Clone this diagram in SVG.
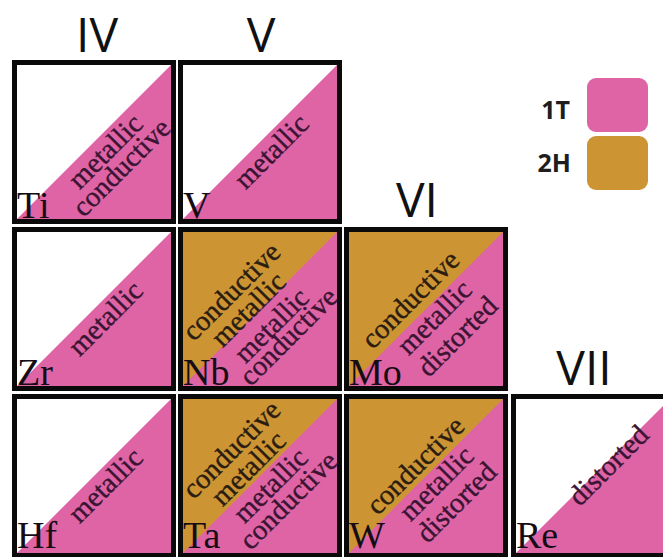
<svg xmlns="http://www.w3.org/2000/svg" width="663" height="557" viewBox="0 0 663 557">
<style>
.bg{fill:#ffffff}
.hd{font-family:"Open Sans","Liberation Sans",sans-serif;font-size:48px;fill:#111111;text-anchor:middle}
.lg{font-family:"Open Sans","Liberation Sans",sans-serif;font-size:25px;font-weight:700;fill:#1e1e1e;text-anchor:end}
.white{fill:#ffffff}
.gold{fill:#cc9433}
.pink{fill:#de64a6}
.border{fill:none;stroke:#0a0a0a;stroke-width:5}
.sym{font-family:"Liberation Serif","Times New Roman",serif;font-size:38px;fill:#160d14}
.lab{font-family:"Liberation Serif","Times New Roman",serif;font-size:28.5px;fill:#3a1432;stroke:#3a1432;stroke-width:0.4;text-anchor:middle}
.labg{font-family:"Liberation Serif","Times New Roman",serif;font-size:28.5px;fill:#2a1c10;stroke:#2a1c10;stroke-width:0.4;text-anchor:middle}
</style>
<defs>
<polygon id="tri" points="5,159 159,5 159,159"/>
</defs>
<rect class="bg" x="0" y="0" width="663" height="557"/>

<g id="headers">
<text class="hd" x="97" y="52">IV</text>
<text class="hd" x="261" y="52">V</text>
<text class="hd" x="417" y="217">VI</text>
<text class="hd" x="584" y="385">VII</text>
</g>

<g id="legend">
<text class="lg" x="570" y="119">1T</text>
<rect class="pink" x="587" y="78" width="61" height="54" rx="9"/>
<text class="lg" x="571" y="172">2H</text>
<rect class="gold" x="587" y="136" width="61" height="54" rx="9"/>
</g>

<g id="Ti" transform="translate(12,60)">
<rect class="white" x="5" y="5" width="154" height="154"/>
<use href="#tri" class="pink"/>
<rect class="border" x="2.5" y="2.5" width="159" height="159"/>
<text class="lab" transform="translate(100,98) rotate(-45)">metallic</text>
<text class="lab" transform="translate(116,114) rotate(-45)">conductive</text>
<text class="sym" x="5" y="158">Ti</text>
</g>

<g id="V" transform="translate(178,60)">
<rect class="white" x="5" y="5" width="154" height="154"/>
<use href="#tri" class="pink"/>
<rect class="border" x="2.5" y="2.5" width="159" height="159"/>
<text class="lab" transform="translate(100,98) rotate(-45)">metallic</text>
<text class="sym" x="5" y="158">V</text>
</g>

<g id="Zr" transform="translate(12,227)">
<rect class="white" x="5" y="5" width="154" height="154"/>
<use href="#tri" class="pink"/>
<rect class="border" x="2.5" y="2.5" width="159" height="159"/>
<text class="lab" transform="translate(100,98) rotate(-45)">metallic</text>
<text class="sym" x="5" y="158">Zr</text>
</g>

<g id="Nb" transform="translate(178,227)">
<rect class="gold" x="5" y="5" width="154" height="154"/>
<use href="#tri" class="pink"/>
<rect class="border" x="2.5" y="2.5" width="159" height="159"/>
<text class="labg" transform="translate(60,71) rotate(-45)">conductive</text>
<text class="labg" transform="translate(77,89) rotate(-45)">metallic</text>
<text class="lab" transform="translate(100,105) rotate(-45)">metallic</text>
<text class="lab" transform="translate(117,116) rotate(-45)">conductive</text>
<text class="sym" x="5" y="158">Nb</text>
</g>

<g id="Mo" transform="translate(344,227)">
<rect class="gold" x="5" y="5" width="154" height="154"/>
<use href="#tri" class="pink"/>
<rect class="border" x="2.5" y="2.5" width="159" height="159"/>
<text class="labg" transform="translate(73,79) rotate(-45)">conductive</text>
<text class="lab" transform="translate(97,97) rotate(-45)">metallic</text>
<text class="lab" transform="translate(120,116) rotate(-45)">distorted</text>
<text class="sym" x="5" y="158">Mo</text>
</g>

<g id="Hf" transform="translate(12,394)">
<rect class="white" x="5" y="5" width="154" height="154"/>
<use href="#tri" class="pink"/>
<rect class="border" x="2.5" y="2.5" width="159" height="159"/>
<text class="lab" transform="translate(100,98) rotate(-45)">metallic</text>
<text class="sym" x="5" y="154">Hf</text>
</g>

<g id="Ta" transform="translate(178,394)">
<rect class="gold" x="5" y="5" width="154" height="154"/>
<use href="#tri" class="pink"/>
<rect class="border" x="2.5" y="2.5" width="159" height="159"/>
<text class="labg" transform="translate(60,62) rotate(-45)">conductive</text>
<text class="labg" transform="translate(77,81) rotate(-45)">metallic</text>
<text class="lab" transform="translate(99,98) rotate(-45)">metallic</text>
<text class="lab" transform="translate(117,113) rotate(-45)">conductive</text>
<text class="sym" x="5" y="154">Ta</text>
</g>

<g id="W" transform="translate(344,394)">
<rect class="gold" x="5" y="5" width="154" height="154"/>
<use href="#tri" class="pink"/>
<rect class="border" x="2.5" y="2.5" width="159" height="159"/>
<text class="labg" transform="translate(78,78) rotate(-45)">conductive</text>
<text class="lab" transform="translate(99,96) rotate(-45)">metallic</text>
<text class="lab" transform="translate(119,115) rotate(-45)">distorted</text>
<text class="sym" x="5" y="154">W</text>
</g>

<g id="Re" transform="translate(511,394)">
<rect class="white" x="5" y="5" width="154" height="154"/>
<use href="#tri" class="pink"/>
<rect class="border" x="2.5" y="2.5" width="159" height="159"/>
<text class="lab" transform="translate(104,78) rotate(-45)">distorted</text>
<text class="sym" x="5" y="154">Re</text>
</g>
</svg>
